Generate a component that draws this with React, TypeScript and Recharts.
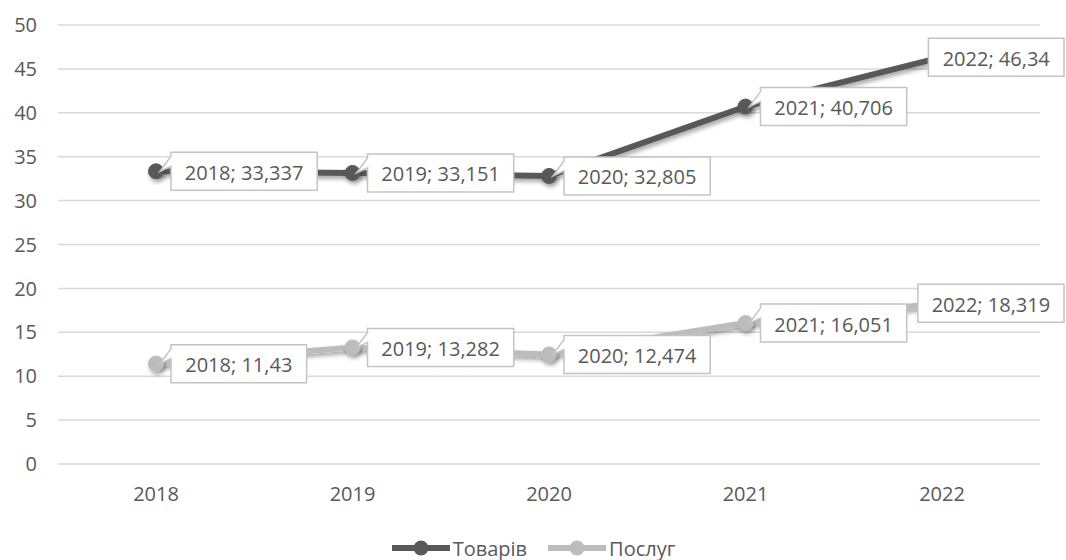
import { CartesianGrid, Legend, Line, LineChart, XAxis, YAxis } from "recharts"

const years = ["2018", "2019", "2020", "2021", "2022"]
const goods = [33.337, 33.151, 32.805, 40.706, 46.34]
const services = [11.43, 13.282, 12.474, 16.051, 18.319]
const yTicks = [0, 5, 10, 15, 20, 25, 30, 35, 40, 45, 50]

const seriesNames = { goods: "Товарів", services: "Послуг" }
const colors = { goods: "#595959", services: "#bcbcbc" }

const data = years.map((year, i) => ({
  year,
  goods: goods[i],
  services: services[i],
}))

const FONT = "'Open Sans', 'Noto Sans', sans-serif"
const TEXT = "#595959"

function fmt(v: number) {
  return String(v).replace(".", ",")
}

function Callout(props: any) {
  const { x, y, value, index } = props
  if (x == null || y == null) return null
  const text = `${years[index]}; ${fmt(Number(value))}`
  const w = text.length * 10.6 + 19
  const h = 38
  const last = index === years.length - 1
  // the last labels cover their own point and stop at the chart's right edge
  const left = last ? Math.min(x - 6, 1064 - w) : x + 15
  const top = y - h / 2
  const d = last
    ? `M${left},${top} H${left + w} V${top + h} H${left} Z`
    : `M${left},${top} H${left + w} V${top + h} H${left} V${top + 14} L${x + 4},${y} L${left},${top + 4} Z`
  return (
    <g>
      <path d={d} fill="#fff" stroke="#c4c4c4" strokeWidth={1.5} />
      <text
        x={left + w / 2}
        y={y + 1}
        textAnchor="middle"
        dominantBaseline="central"
        fontSize={20}
        fontFamily={FONT}
        fill={TEXT}
      >
        {text}
      </text>
    </g>
  )
}

function LegendContent() {
  const items = [
    { name: seriesNames.goods, color: colors.goods },
    { name: seriesNames.services, color: colors.services },
  ]
  return (
    <div
      style={{
        display: "flex",
        justifyContent: "center",
        alignItems: "center",
        gap: 20,
        height: 24,
        fontFamily: FONT,
        fontSize: 20,
        color: TEXT,
      }}
    >
      {items.map((it) => (
        <div key={it.name} style={{ display: "flex", alignItems: "center" }}>
          <svg width={60} height={20}>
            <line x1={1} y1={10} x2={59} y2={10} stroke={it.color} strokeWidth={6} />
            <circle cx={30} cy={10} r={7.5} fill={it.color} />
          </svg>
          <span style={{ marginLeft: 2 }}>{it.name}</span>
        </div>
      ))}
    </div>
  )
}

export default function App() {
  return (
    <div style={{ position: "absolute", left: 0, top: 0, width: 1066, height: 560, background: "#fff" }}>
      <LineChart
        width={1066}
        height={560}
        data={data}
        margin={{ top: 25, right: 26, left: 0, bottom: 0 }}
        style={{ fontFamily: FONT }}
      >
        <defs>
          <filter id="shadow" x="-20%" y="-20%" width="140%" height="160%">
            <feDropShadow dx="1.5" dy="3" stdDeviation="2" floodColor="#000" floodOpacity="0.35" />
          </filter>
        </defs>
        <CartesianGrid vertical={false} stroke="#d9d9d9" strokeWidth={1.5} />
        <XAxis
          dataKey="year"
          axisLine={false}
          tickLine={false}
          height={72}
          tickMargin={17}
          padding={{ left: 98, right: 98 }}
          tick={{ fontSize: 20, fill: TEXT, fontFamily: FONT }}
        />
        <YAxis
          domain={[0, 50]}
          ticks={yTicks}
          interval={0}
          axisLine={false}
          tickLine={false}
          width={58}
          tickMargin={15}
          tick={{ fontSize: 20, fill: TEXT, fontFamily: FONT }}
        />
        <Legend
          verticalAlign="bottom"
          width={1066}
          wrapperStyle={{ left: 0 }}
          content={() => <LegendContent />}
        />
        <Line
          dataKey="goods"
          name={seriesNames.goods}
          stroke={colors.goods}
          strokeWidth={6}
          filter="url(#shadow)"
          dot={{ r: 7.5, fill: colors.goods, stroke: colors.goods, strokeWidth: 1 }}
          activeDot={false}
          isAnimationActive={false}
          label={(p: any) => <Callout {...p} />}
        />
        <Line
          dataKey="services"
          name={seriesNames.services}
          stroke={colors.services}
          strokeWidth={6}
          filter="url(#shadow)"
          dot={{ r: 7.5, fill: colors.services, stroke: colors.services, strokeWidth: 1 }}
          activeDot={false}
          isAnimationActive={false}
          label={(p: any) => <Callout {...p} />}
        />
      </LineChart>
    </div>
  )
}
